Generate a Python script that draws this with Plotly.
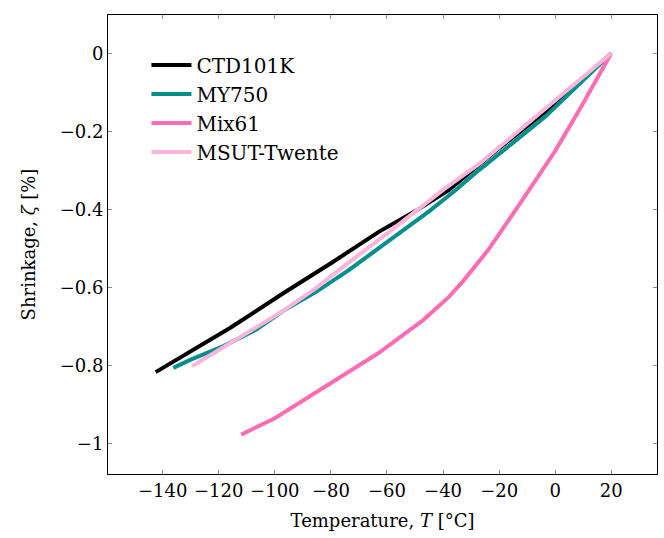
import plotly.graph_objects as go

# CTD101K
ctd_x = [-142.5, -130, -116, -97, -80, -62.8, -50, -38, -20, 0, 20]
ctd_y = [-0.817, -0.763, -0.704, -0.615, -0.538, -0.457, -0.405, -0.351, -0.243, -0.13, 0]
# MY750
my_x = [-136.2, -130, -118.5, -106.6, -97, -85, -73.5, -59.3, -45, -35.6, -27.3, -15, -3.6, 20]
my_y = [-0.806, -0.785, -0.751, -0.708, -0.660, -0.610, -0.555, -0.481, -0.405, -0.351, -0.300, -0.229, -0.163, 0]
# Mix61
mix_x = [-112, -100, -80, -63, -47, -38, -33, -24, -13, 0, 9, 20]
mix_y = [-0.977, -0.935, -0.845, -0.768, -0.683, -0.625, -0.585, -0.505, -0.39, -0.25, -0.14, 0]
# MSUT-Twente
msut_x = [-129.5, -116, -97, -85, -73.5, -60, -40, -27, -10, 0, 20]
msut_y = [-0.802, -0.742, -0.660, -0.600, -0.535, -0.462, -0.350, -0.283, -0.180, -0.122, 0]

x_ticks = [-140, -120, -100, -80, -60, -40, -20, 0, 20]
y_ticks = [0, -0.2, -0.4, -0.6, -0.8, -1]

series = [
    ("CTD101K", ctd_x, ctd_y, "#000000"),
    ("MY750", my_x, my_y, "#008f8c"),
    ("Mix61", mix_x, mix_y, "#ff6eb4"),
    ("MSUT-Twente", msut_x, msut_y, "#ffb5da"),
]

FONT = "DejaVu Serif"
FS = 18
fig = go.Figure()
for name, xs, ys, c in series:
    fig.add_trace(go.Scatter(x=xs, y=ys, mode="lines", name=name,
                             line=dict(color=c, width=4)))

axis_common = dict(showline=True, linecolor="black", linewidth=1, mirror="ticks",
                   ticks="inside", ticklen=4, tickcolor="#888", tickwidth=1,
                   showgrid=False, zeroline=False,
                   tickfont=dict(family=FONT, size=FS, color="black"))
fig.update_layout(
    width=664, height=538,
    margin=dict(l=108, r=7, t=15, b=64),
    paper_bgcolor="white", plot_bgcolor="white",
    xaxis=dict(range=[-159.5, 36.3], tickvals=x_ticks,
               title=dict(text="Temperature, <i>T</i> [°C]", font=dict(family=FONT, size=FS, color="black"), standoff=14),
               **axis_common),
    yaxis=dict(range=[-1.078, 0.098], tickvals=y_ticks,
               title=dict(text="Shrinkage, <i>ζ</i> [%]", font=dict(family=FONT, size=FS, color="black"), standoff=19),
               **axis_common),
    legend=dict(x=0.07, y=0.9335, xanchor="left", yanchor="top",
                bgcolor="rgba(0,0,0,0)", borderwidth=0, itemwidth=40,
                font=dict(family=FONT, size=20, color="black"),
                tracegroupgap=0),
    showlegend=True,
)
fig.write_html("out.html")
